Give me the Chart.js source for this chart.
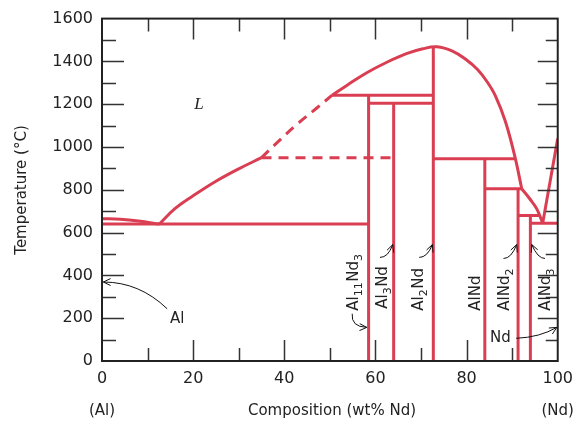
<!DOCTYPE html>
<html>
<head>
<meta charset="utf-8">
<script src="https://cdn.jsdelivr.net/npm/chart.js@4.4.1/dist/chart.umd.min.js"></script>
<style>
  body { margin: 0; background: #fff; }
  canvas { display: block; }
</style>
</head>
<body>
<canvas id="phaseChart" width="581" height="428"></canvas>
<script>
// Al-Nd phase diagram (wt% Nd, deg C)
const xTicks = [0, 20, 40, 60, 80, 100];
const yTicks = [0, 200, 400, 600, 800, 1000, 1200, 1400, 1600];

// liquidus pieces
const alMeltX = [0, 4, 8, 12.6];
const alMeltT = [665, 662, 654, 640];
const liqLowX = [12.6, 16, 20, 25, 30, 35];
const liqLowT = [640, 712, 772, 840, 898, 950];
const liqDashX = [35, 39, 43, 47, 50.5];
const liqDashT = [950, 1032, 1110, 1180, 1242];
const liqHighX = [50.5, 53.8, 58.1, 62.5, 66.8, 70.4, 73.5, 76.9, 79.8, 82.4, 84.5, 86.3, 88.5, 90.6, 92.1];
const liqHighT = [1242, 1289, 1347, 1396, 1436, 1459, 1468, 1448, 1410, 1362, 1305, 1240, 1120, 955, 805];
const ndSideX = [92.1, 93.9, 95.4, 96.7];
const ndSideT = [805, 757, 711, 644];
const ndLiqX = [96.7, 100];
const ndLiqT = [644, 1040];

// compounds (vertical lines)
const compoundX = [58.5, 64, 72.7, 84, 91.3, 94];
const compoundTop = [1242, 1205, 1466, 945, 805, 680];
// name pieces, odd entries are subscripts
const compoundNames = [['Al', '11', 'Nd', '3'], ['Al', '3', 'Nd'], ['Al', '2', 'Nd'], ['AlNd'], ['AlNd', '2'], ['AlNd', '3']];

// invariant (horizontal) lines
const isoT = [640, 1242, 1205, 945, 805, 680, 644];
const isoFrom = [0, 50.5, 58.5, 72.7, 84, 91.3, 94];
const isoTo = [58.5, 72.7, 72.7, 90.7, 92.1, 96.0, 100];
const dashIsoT = 950;
const dashIsoFrom = 35;
const dashIsoTo = 64;

const RED = '#da3e52';
const INK = '#222';

function pts(xs, ts) {
  return xs.map((x, i) => ({ x: x, y: ts[i] }));
}

const datasets = [];
function addLine(data, opts) {
  datasets.push(Object.assign({
    data: data,
    showLine: true,
    borderColor: RED,
    borderWidth: 3,
    pointRadius: 0,
    tension: 0,
    fill: false
  }, opts || {}));
}

const curve = { tension: 0.4 };
addLine(pts(alMeltX, alMeltT), curve);
addLine(pts(liqLowX, liqLowT), curve);
addLine(pts(liqDashX, liqDashT), { tension: 0.4, borderDash: [10, 7] });
addLine(pts(liqHighX, liqHighT), curve);
addLine(pts(ndSideX, ndSideT), curve);
addLine(pts(ndLiqX, ndLiqT));
compoundX.forEach((x, i) => addLine([{ x: x, y: 0 }, { x: x, y: compoundTop[i] }]));
isoT.forEach((t, i) => addLine([{ x: isoFrom[i], y: t }, { x: isoTo[i], y: t }]));
addLine([{ x: dashIsoFrom, y: dashIsoT }, { x: dashIsoTo, y: dashIsoT }], { borderDash: [10, 7] });

// label anchors (data coords: baseline x, bottom of text T)
const labelX = [56.2, 62.5, 70.4, 82.9, 89.2, 98.3];
const labelT = [235, 244, 235, 235, 235, 235];

// arrows: [fromX, fromT, ctrlX, ctrlT, toX, toT]
const arrows = [
  [14.3, 244, 8.2, 369, 0.3, 369],
  [54.9, 221, 54.6, 160, 58.1, 157],
  [61.0, 484, 62.8, 484, 63.8, 544],
  [69.6, 484, 71.4, 484, 72.5, 544],
  [88.1, 479, 89.8, 479, 91.0, 544],
  [97.2, 479, 95.6, 479, 94.3, 544],
  [90.9, 106, 96.1, 111, 99.8, 157]
];

const decorations = {
  id: 'decorations',
  afterDraw(chart) {
    const ctx = chart.ctx;
    const a = chart.chartArea;
    const xs = chart.scales.x, ys = chart.scales.y;
    const px = v => xs.getPixelForValue(v);
    const py = v => ys.getPixelForValue(v);
    ctx.save();

    // inward tick marks on all four sides
    ctx.strokeStyle = '#333';
    ctx.lineWidth = 1.5;
    ctx.beginPath();
    for (let t = 100; t < 1600; t += 100) {
      const len = t % 200 === 0 ? 22 : 14;
      const y = Math.round(py(t)) + 0.5;
      ctx.moveTo(a.left, y); ctx.lineTo(a.left + len, y);
      ctx.moveTo(a.right, y); ctx.lineTo(a.right - len + 2, y);
    }
    for (let v = 10; v < 100; v += 10) {
      const len = v % 20 === 0 ? 21 : 13;
      const x = Math.round(px(v)) + 0.5;
      ctx.moveTo(x, a.top); ctx.lineTo(x, a.top + len);
      ctx.moveTo(x, a.bottom); ctx.lineTo(x, a.bottom - len);
    }
    ctx.stroke();

    // frame
    ctx.strokeStyle = INK;
    ctx.lineWidth = 2;
    ctx.strokeRect(a.left, a.top, a.right - a.left, a.bottom - a.top);

    // axis titles
    ctx.fillStyle = INK;
    ctx.font = '15px "DejaVu Sans"';
    ctx.textAlign = 'center';
    ctx.textBaseline = 'middle';
    ctx.fillText('Composition (wt% Nd)', 332, 411);
    ctx.fillText('(Al)', px(0), 411);
    ctx.fillText('(Nd)', px(100), 411);
    ctx.save();
    ctx.translate(22, 190);
    ctx.rotate(-Math.PI / 2);
    ctx.fillText('Temperature (\u00B0C)', 0, 0);
    ctx.restore();

    // phase labels
    ctx.font = 'italic 17px "Liberation Serif"';
    ctx.fillText('L', px(21.3), py(1198));
    ctx.font = '15px "DejaVu Sans"';
    ctx.fillText('Al', px(16.5), py(198));
    ctx.fillText('Nd', px(87.4), py(106));

    // compound names, rotated
    compoundNames.forEach((parts, i) => {
      ctx.save();
      ctx.translate(px(labelX[i]), py(labelT[i]));
      ctx.rotate(-Math.PI / 2);
      ctx.textAlign = 'left';
      ctx.textBaseline = 'alphabetic';
      let u = 0;
      parts.forEach((s, k) => {
        const sub = k % 2 === 1;
        ctx.font = sub ? '11px "DejaVu Sans"' : '15px "DejaVu Sans"';
        ctx.fillText(s, u, sub ? 4 : 0);
        u += ctx.measureText(s).width + (sub ? 0.5 : 0);
      });
      ctx.restore();
    });

    // arrows
    ctx.strokeStyle = '#111';
    ctx.lineWidth = 1;
    arrows.forEach(r => {
      const x0 = px(r[0]), y0 = py(r[1]);
      const cx = px(r[2]), cy = py(r[3]);
      const x1 = px(r[4]), y1 = py(r[5]);
      ctx.beginPath();
      ctx.moveTo(x0, y0);
      ctx.quadraticCurveTo(cx, cy, x1, y1);
      ctx.stroke();
      const ang = Math.atan2(y1 - cy, x1 - cx);
      ctx.beginPath();
      ctx.moveTo(x1 - 8 * Math.cos(ang - 0.45), y1 - 8 * Math.sin(ang - 0.45));
      ctx.lineTo(x1, y1);
      ctx.lineTo(x1 - 8 * Math.cos(ang + 0.45), y1 - 8 * Math.sin(ang + 0.45));
      ctx.stroke();
    });

    ctx.restore();
  }
};

const tickFont = { family: 'DejaVu Sans', size: 16 };

new Chart(document.getElementById('phaseChart').getContext('2d'), {
  type: 'scatter',
  data: { datasets: datasets },
  options: {
    responsive: false,
    animation: false,
    layout: { padding: { top: 14, right: 18, left: 0, bottom: 0 } },
    plugins: { legend: { display: false }, tooltip: { enabled: false } },
    scales: {
      x: {
        type: 'linear', min: 0, max: 100,
        afterBuildTicks: s => { s.ticks = xTicks.map(v => ({ value: v })); },
        ticks: { font: tickFont, color: INK, padding: 8, autoSkip: false, maxRotation: 0, callback: v => String(v) },
        grid: { display: false, drawTicks: false },
        border: { display: false },
        afterFit: s => { s.height = 67; }
      },
      y: {
        type: 'linear', min: 0, max: 1600,
        afterBuildTicks: s => { s.ticks = yTicks.map(v => ({ value: v })); },
        ticks: { font: tickFont, color: INK, padding: 9, autoSkip: false, callback: v => String(v) },
        grid: { display: false, drawTicks: false },
        border: { display: false },
        afterFit: s => { s.width = 102; }
      }
    }
  },
  plugins: [decorations]
});
</script>
</body>
</html>
